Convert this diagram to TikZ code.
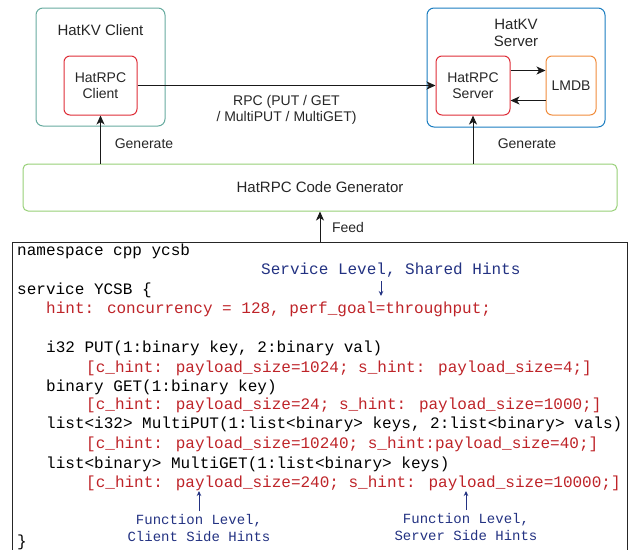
\documentclass[tikz,border=0pt]{standalone}
\usepackage{fontspec}
\setmainfont{Liberation Sans}
\newfontfamily\codefont{Liberation Mono}
\usepackage{xcolor}
\usetikzlibrary{arrows.meta}

\definecolor{kvteal}{RGB}{103,171,159}
\definecolor{kvblue}{RGB}{26,125,192}
\definecolor{rpcred}{RGB}{222,45,55}
\definecolor{dborange}{RGB}{240,140,60}
\definecolor{gengreen}{RGB}{151,208,119}
\definecolor{codered}{RGB}{190,35,40}
\definecolor{notenavy}{RGB}{35,50,130}

\begin{document}
\begin{tikzpicture}[x=1pt,y=-1pt,
  box/.style={draw,rounded corners=7pt,line width=1pt,inner sep=0pt,text=black!85},
  lbl/.style={font=\fontsize{14}{16}\selectfont,align=center,inner sep=0pt,text=black!85},
  arr/.style={line width=1pt,black!90,-{Stealth[length=9pt,width=8pt,inset=2.5pt]}},
  code/.style={font=\codefont\fontsize{16}{19}\selectfont,anchor=base west,inner sep=0pt},
  hint/.style={code,text=codered},
  note/.style={font=\codefont\fontsize{14}{17}\selectfont,text=notenavy,align=center,inner sep=0pt},
  noarr/.style={notenavy,line width=0.9pt,-{Stealth[length=5pt,width=4.5pt]}}]
\useasboundingbox (0,0) rectangle (631,549);

% client side
\node[box,kvteal,minimum width=129,minimum height=118] (kvc) at (100.5,67) {};
\node[lbl,font=\fontsize{15}{17}\selectfont] (kvclbl) at (100.5,30) {HatKV Client};
\node[box,rpcred,rounded corners=6pt,minimum width=73,minimum height=59,lbl] (rpcc) at (100.5,85.5) {HatRPC\\Client};

% server side
\node[box,kvblue,minimum width=178,minimum height=119] (kvs) at (516,67.5) {};
\node[lbl,font=\fontsize{15}{17}\selectfont] (kvslbl) at (516,33) {HatKV\\Server};
\node[box,rpcred,rounded corners=6pt,minimum width=74,minimum height=59,lbl] (rpcs) at (473,85.5) {HatRPC\\Server};
\node[box,dborange,rounded corners=6pt,minimum width=50,minimum height=59,lbl] (lmdb) at (571,85.5) {LMDB};

% generator
\node[box,gengreen,rounded corners=5pt,minimum width=594,minimum height=47] (gen) at (320,187.5) {};
\node[lbl,font=\fontsize{15}{17}\selectfont] (genlbl) at (320,187.5) {HatRPC Code Generator};

\draw[arr] (rpcc.east) -- (rpcs.west)
  node[lbl,midway,below=9pt] (rpclbl) {RPC (PUT / GET\\/ MultiPUT / MultiGET)};
\draw[arr] ([yshift=15pt]rpcs.east) -- ([yshift=15pt]lmdb.west);
\draw[arr] ([yshift=-15pt]lmdb.west) -- ([yshift=-15pt]rpcs.east);
\draw[arr] (gen.north -| rpcc) -- (rpcc.south);
\draw[arr] (gen.north -| rpcs) -- (rpcs.south);
\node[lbl] (genc) at (144,144) {Generate};
\node[lbl] (gens) at (527,144) {Generate};

% IDL source
\node[draw,line width=1pt,black!85,minimum width=615,minimum height=318,inner sep=0pt] (spec) at (319.5,401) {};
\draw[arr] (gen.south |- spec.north) -- (gen.south);
\node[lbl] (feed) at (348,227) {Feed};

\node[code] (ns) at (17,255) {namespace cpp ycsb};
\node[code] (svc) at (17,294) {service YCSB \{};
\node[hint] (svch) at (46,313) {hint: concurrency = 128, perf\_goal=throughput;};
\node[code] (put) at (46,352) {i32 PUT(1:binary key, 2:binary val)};
\node[hint] (puth) at (86,372) {[c\_hint: payload\_size=1024; s\_hint: payload\_size=4;]};
\node[code] (get) at (46,391) {binary GET(1:binary key)};
\node[hint] (geth) at (86,409) {[c\_hint: payload\_size=24; s\_hint: payload\_size=1000;]};
\node[code] (mput) at (46,428) {list<i32> MultiPUT(1:list<binary> keys, 2:list<binary> vals)};
\node[hint] (mputh) at (86,448) {[c\_hint: payload\_size=10240; s\_hint:payload\_size=40;]};
\node[code] (mget) at (46,468) {list<binary> MultiGET(1:list<binary> keys)};
\node[hint] (mgeth) at (86,487) {[c\_hint: payload\_size=240; s\_hint: payload\_size=10000;]};
\node[code] (close) at (17,546) {\}};

% hint annotations
\node[code,text=notenavy] (svcnote) at (261,274) {Service Level, Shared Hints};
\coordinate (svctip) at (381,296);
\draw[noarr,shorten <=4pt] (svcnote.south -| svctip) -- (svctip);
\node[note] (cnote) at (199,528) {Function Level,\\Client Side Hints};
\coordinate (ctip) at (199,491);
\draw[noarr,shorten <=3pt] (cnote.north -| ctip) -- (ctip);
\node[note] (snote) at (466,527) {Function Level,\\Server Side Hints};
\coordinate (stip) at (466,491);
\draw[noarr,shorten <=3pt] (snote.north -| stip) -- (stip);
\end{tikzpicture}
\end{document}
